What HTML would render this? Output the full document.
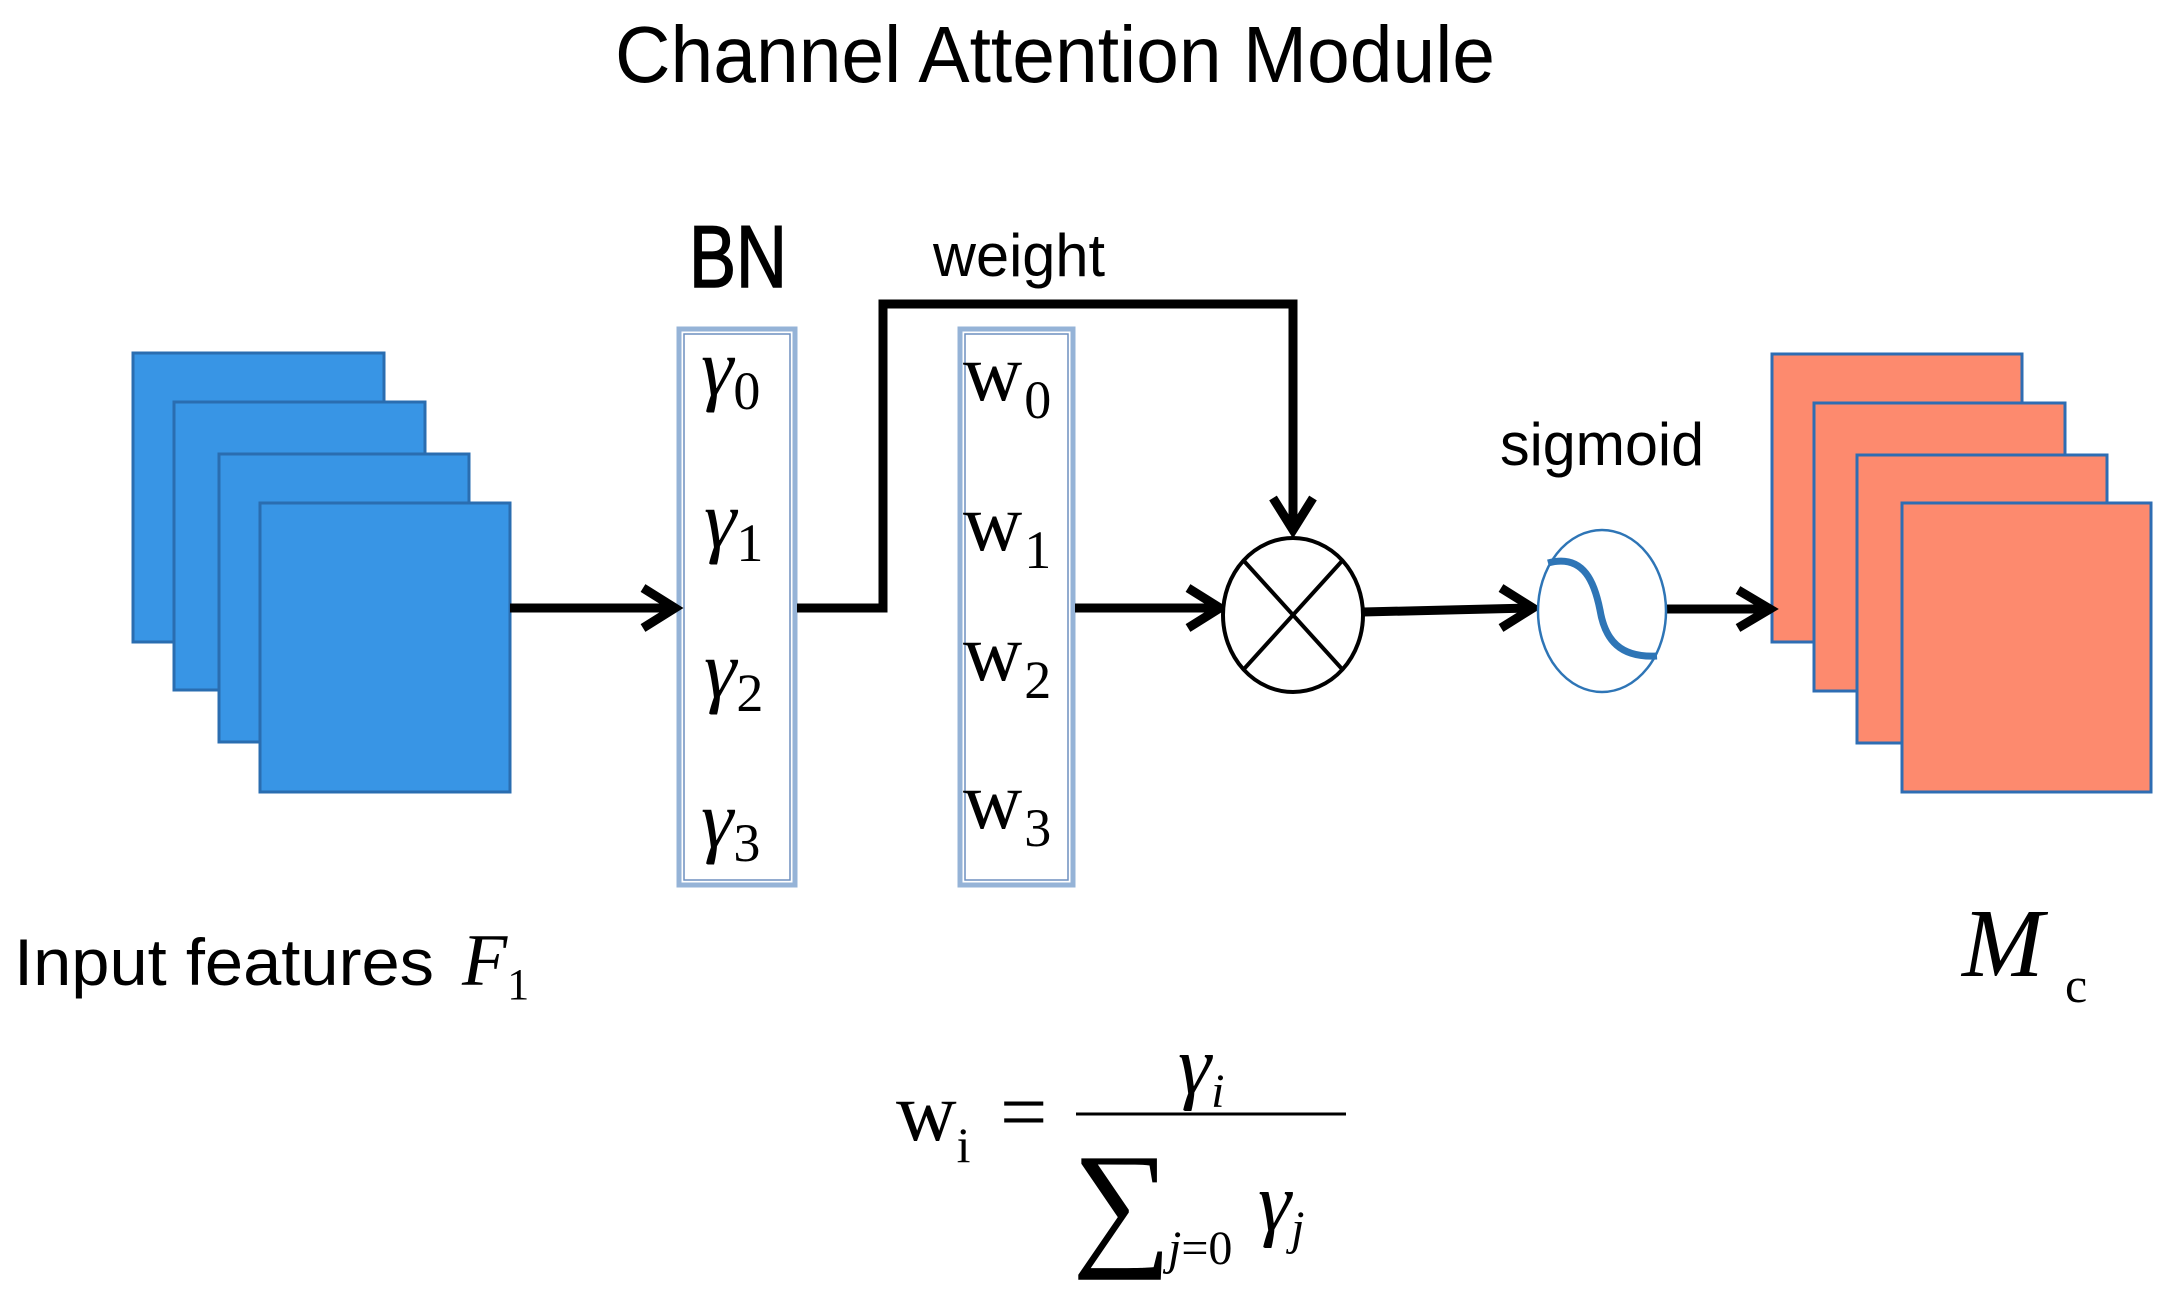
<!DOCTYPE html>
<html><head><meta charset="utf-8"><style>html,body{margin:0;padding:0;background:#fff}svg{display:block}</style></head>
<body>
<svg width="2169" height="1295" viewBox="0 0 2169 1295" xmlns="http://www.w3.org/2000/svg">
<rect width="2169" height="1295" fill="#fff"/>
<text x="615" y="82" font-family="Liberation Sans, sans-serif" font-size="80" textLength="880" lengthAdjust="spacingAndGlyphs">Channel Attention Module</text>

<g fill="#3895e5" stroke="#2a6db0" stroke-width="3">
<rect x="133" y="353" width="251" height="289"/>
<rect x="174" y="402" width="251" height="288"/>
<rect x="219" y="454" width="250" height="288"/>
<rect x="260" y="503" width="250" height="289"/>
</g>
<g fill="#fd8a6e" stroke="#2e6db3" stroke-width="3">
<rect x="1772" y="354" width="250" height="288"/>
<rect x="1814" y="403" width="251" height="288"/>
<rect x="1857" y="455" width="250" height="288"/>
<rect x="1902" y="503" width="249" height="289"/>
</g>

<g fill="none" stroke="#95b3d7">
<rect x="679" y="329" width="116" height="556" stroke-width="5"/>
<rect x="960" y="329" width="113" height="556" stroke-width="5"/>
</g>
<g fill="none" stroke="#6d8fbf" stroke-width="1.5">
<rect x="684" y="334" width="106" height="546"/>
<rect x="965" y="334" width="103" height="546"/>
</g>

<text x="689" y="287" font-family="Liberation Sans, sans-serif" font-size="88" stroke="#000" stroke-width="1.5" textLength="98" lengthAdjust="spacingAndGlyphs">BN</text>
<text x="933" y="276" font-family="Liberation Sans, sans-serif" font-size="60" textLength="172" lengthAdjust="spacingAndGlyphs">weight</text>
<text x="1500" y="465" font-family="Liberation Sans, sans-serif" font-size="60" textLength="204" lengthAdjust="spacingAndGlyphs">sigmoid</text>

<g font-family="Liberation Serif, serif" font-style="italic" font-size="82">
<text x="701" y="395">γ<tspan font-style="normal" font-size="54" dy="14">0</tspan></text>
<text x="704" y="547">γ<tspan font-style="normal" font-size="54" dy="14">1</tspan></text>
<text x="704" y="697">γ<tspan font-style="normal" font-size="54" dy="14">2</tspan></text>
<text x="701" y="847">γ<tspan font-style="normal" font-size="54" dy="14">3</tspan></text>
</g>
<g font-family="Liberation Serif, serif" font-size="82">
<text x="963" y="400">w<tspan font-size="54" dx="2" dy="18">0</tspan></text>
<text x="963" y="550">w<tspan font-size="54" dx="2" dy="18">1</tspan></text>
<text x="963" y="680">w<tspan font-size="54" dx="2" dy="18">2</tspan></text>
<text x="963" y="828">w<tspan font-size="54" dx="2" dy="18">3</tspan></text>
</g>

<g stroke="#000" stroke-width="9" fill="none">
<line x1="510" y1="608" x2="672" y2="608"/>
<polyline points="643,588 675,608 643,628"/>
<polyline points="797,608 883,608 883,304 1293,304 1293,528"/>
<polyline points="1273,498 1293,530 1313,498"/>
<line x1="1075" y1="608" x2="1218" y2="608"/>
<polyline points="1188,588 1220,608 1188,628"/>
<line x1="1363" y1="612" x2="1531" y2="608"/>
<polyline points="1501,588 1533,608 1501,628"/>
<line x1="1666" y1="609" x2="1768" y2="609"/>
<polyline points="1738,590 1770,609 1738,628"/>
</g>
<g stroke="#000" stroke-width="4" fill="#fff">
<ellipse cx="1293" cy="615" rx="70" ry="77"/>
<line x1="1244" y1="561" x2="1342" y2="669"/>
<line x1="1342" y1="561" x2="1244" y2="669"/>
</g>
<ellipse cx="1602" cy="611" rx="64" ry="81" fill="#fff" stroke="#2e75b6" stroke-width="2.5"/>
<path d="M1548,563 C1585,553 1595,585 1600,610 C1605,640 1620,658 1657,656" fill="none" stroke="#2e75b6" stroke-width="7"/>

<text x="14" y="985" font-family="Liberation Sans, sans-serif" font-size="66" textLength="420" lengthAdjust="spacingAndGlyphs">Input features</text>
<text x="462" y="985" font-family="Liberation Serif, serif" font-style="italic" font-size="74">F<tspan font-style="normal" font-size="44" dy="14">1</tspan></text>

<text x="1962" y="976" font-family="Liberation Serif, serif" font-style="italic" font-size="98">M</text>
<text x="2065" y="1002" font-family="Liberation Serif, serif" font-size="50">c</text>

<g font-family="Liberation Serif, serif">
<text x="896" y="1140" font-size="84">w<tspan font-size="50" dy="22">i</tspan></text>
<text x="1000" y="1140" font-size="84">=</text>
<line x1="1076" y1="1114" x2="1346" y2="1114" stroke="#000" stroke-width="3"/>
<text x="1178" y="1093" font-size="84" font-style="italic">γ<tspan font-size="48" dy="14">i</tspan></text>
<text x="1072" y="1250" font-size="140">∑</text>
<text x="1168" y="1264" font-size="48" font-style="italic">j<tspan font-style="normal">=0</tspan></text>
<text x="1258" y="1230" font-size="84" font-style="italic">γ<tspan font-size="48" dy="14">j</tspan></text>
</g>
</svg>
</body></html>
